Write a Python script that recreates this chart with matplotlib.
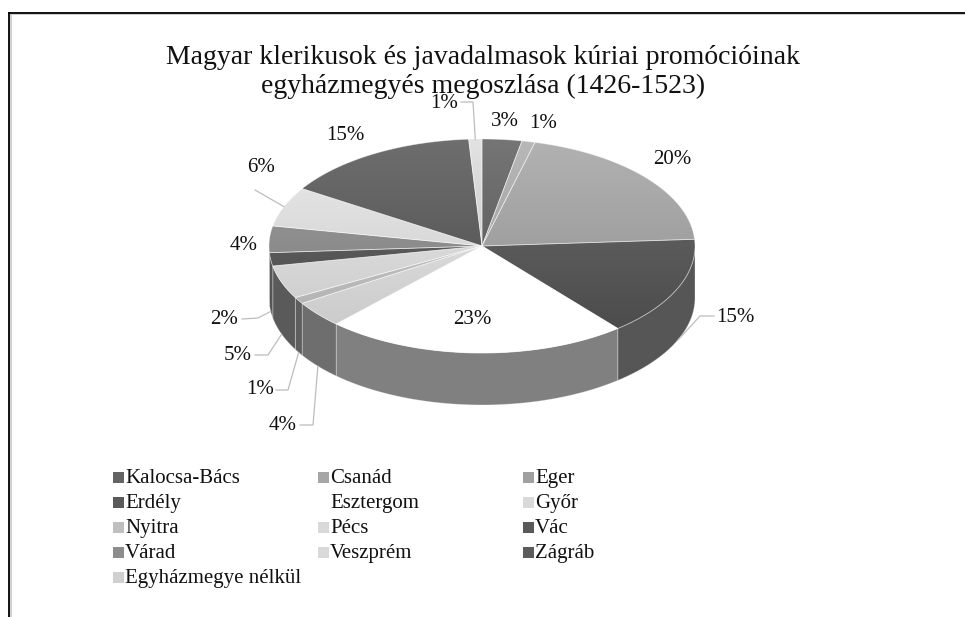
import numpy as np
import matplotlib
matplotlib.use("Agg")
import matplotlib.pyplot as plt
from matplotlib.patches import Polygon, Rectangle
from matplotlib.lines import Line2D

title = "Magyar klerikusok és javadalmasok kúriai promócióinak\negyházmegyés megoszlása (1426-1523)"
names = ["Kalocsa-Bács", "Csanád", "Eger", "Erdély", "Esztergom", "Győr", "Nyitra",
         "Pécs", "Vác", "Várad", "Veszprém", "Zágráb", "Egyházmegye nélkül"]
values = [3, 1, 20, 15, 23, 4, 1, 5, 2, 4, 6, 15, 1]

top_colors = ["#636363", "#a6a6a6", "#a0a0a0", "#5a5a5a", "#ffffff", "#d9d9d9", "#bfbfbf",
              "#d9d9d9", "#595959", "#8c8c8c", "#d9d9d9", "#5c5c5c", "#d0d0d0"]
side_colors = ["#555555", "#8a8a8a", "#7a7a7a", "#565656", "#808080", "#6e6e6e", "#5e5e5e",
               "#5a5a5a", "#555555", "#6f6f6f", "#9a9a9a", "#4a4a4a", "#a0a0a0"]

# label positions (pixel coords) and leader line start/elbow
lab_pos = [(505, 122), (543, 123), (672, 160), (735, 318), (472, 320), (283, 426), (260, 390),
           (238, 356), (224, 320), (244, 245), (261, 168), (345, 136), (444, 104)]
leaders = {3: [(714, 316), (700, 316)], 5: [(300, 425), (313, 425)], 6: [(276, 390), (288, 390)],
           7: [(255, 355), (268, 355)], 8: [(242, 319), (258, 318)], 10: [(255, 190)],
           12: [(461, 102), (473, 102)]}

cx, cy, rx, ry, depth = 482, 246, 213, 107, 52

fig = plt.figure(figsize=(9.65, 6.17), dpi=100)
ax = fig.add_axes([0, 0, 1, 1])
ax.set_xlim(0, 965)
ax.set_ylim(617, 0)
ax.axis("off")

serif = ["Liberation Serif", "DejaVu Serif"]

# frame
ax.add_line(Line2D([10.5, 965], [14, 14], color="#c8c8c8", lw=1.2))
ax.add_line(Line2D([10.5, 10.5], [14, 617], color="#c8c8c8", lw=1.2))
ax.add_line(Line2D([9, 965], [12.5, 12.5], color="black", lw=1.3))
ax.add_line(Line2D([9, 9], [12.5, 617], color="black", lw=1.3))

ax.text(483, 72, title, ha="center", va="center", fontsize=20, family=serif,
        linespacing=1.15, color="#111111")

total = float(sum(values))
cum = np.concatenate([[0], np.cumsum(values)]) / total
angles = 90 - 360 * cum  # clockwise from 12 o'clock


def ell(th, dy=0):
    t = np.radians(th)
    return cx + rx * np.cos(t), cy - ry * np.sin(t) + dy


def shade(hexc, d):
    g = matplotlib.colors.to_rgb(hexc)[0]
    if g >= 0.99:
        return (1, 1, 1)
    v = min(1, max(0, g + d))
    return (v, v, v)


# side walls (front half only)
for i in range(len(values)):
    a1, a2 = angles[i], angles[i + 1]
    lo, hi = max(a2, -180), min(a1, 0)
    if hi <= lo:
        continue
    th = np.linspace(hi, lo, 60)
    xs, ys = ell(th)
    xb, yb = ell(th[::-1], depth)
    pts = np.column_stack([np.concatenate([xs, xb]), np.concatenate([ys, yb])])
    ax.add_patch(Polygon(pts, closed=True, facecolor=side_colors[i],
                         edgecolor=(1, 1, 1, 0.35), lw=0.6, zorder=2))

# top face with vertical gradient
for i in range(len(values)):
    th = np.linspace(angles[i], angles[i + 1], 120)
    xs, ys = ell(th)
    pts = np.column_stack([np.concatenate([[cx], xs]), np.concatenate([[cy], ys])])
    poly = Polygon(pts, closed=True, facecolor="none", edgecolor=(1, 1, 1, 0.45),
                   lw=0.6, zorder=4)
    ax.add_patch(poly)
    c1 = np.array(shade(top_colors[i], 0.07))
    c2 = np.array(shade(top_colors[i], -0.07))
    t = np.linspace(0, 1, 100)[:, None, None]
    grad = c1 * (1 - t) + c2 * t
    im = ax.imshow(grad, extent=(cx - rx, cx + rx, cy + ry, cy - ry), aspect="auto",
                   zorder=3, interpolation="bilinear")
    im.set_clip_path(poly)

ax.set_xlim(0, 965)
ax.set_ylim(617, 0)

# labels and leader lines
for i, v in enumerate(values):
    x, y = lab_pos[i]
    ax.text(x, y, "%d%%" % v, ha="center", va="center", fontsize=15, family=serif,
            color="#111111", zorder=6)
    if i in leaders:
        mid = (angles[i] + angles[i + 1]) / 2
        s = np.sin(np.radians(mid))
        ex, ey = ell(mid, depth if s < 0 else 0)
        pts = leaders[i] + [(ex, ey)]
        ax.add_line(Line2D([p[0] for p in pts], [p[1] for p in pts], color="#bdbdbd",
                           lw=0.9, zorder=5))

# legend (row-major, 3 columns)
col_x = [113, 318, 523]
for i, n in enumerate(names):
    r, c = divmod(i, 3)
    x, y = col_x[c], 477 + 25 * r
    ax.add_patch(Rectangle((x, y - 5.5), 11, 11, facecolor=top_colors[i], edgecolor="none"))
    ax.text(x + 12, y + 6, n, ha="left", va="baseline", fontsize=15, family=serif,
            color="#111111")

fig.savefig("out.png", dpi=100, facecolor="white")
